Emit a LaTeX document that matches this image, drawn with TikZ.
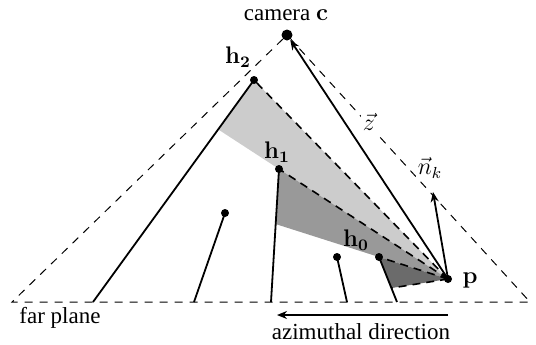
\documentclass[tikz,border=0pt]{standalone}
\usepackage[no-math]{fontspec}
\setmainfont{Liberation Serif}
\usetikzlibrary{arrows.meta,calc}
\tikzset{
  frustum/.style={line width=0.5pt, dash pattern=on 4pt off 3.5pt},
  ray/.style={line width=0.8pt, dash pattern=on 4pt off 3pt},
  horizon/.style={line width=0.9pt},
  vec/.style={line width=0.9pt, -{Stealth[length=5pt,width=4pt]}},
  dot/.style={circle, fill, inner sep=0pt, minimum size=4pt},
  veclabel/.style={fill=white, inner sep=1pt}
}

\begin{document}
\begin{tikzpicture}[x=0.5pt,y=-0.5pt,font=\fontsize{11.5}{14}\selectfont]
\useasboundingbox (0,0) rectangle (536,344);
% points of the horizon search
\coordinate (h2) at (254,80);
\coordinate (g2) at (93,302);
\coordinate (h1) at (279,169);
\coordinate (g1) at (271,302);
\coordinate (h0) at (379,257);
\coordinate (g0) at (397,302);
\coordinate (p) at (448,279);
\coordinate (k) at ($(h0)!0.69!(g0)$);
\coordinate (fl) at (12,302);
\coordinate (fr) at (530,302);
% shaded sectors
\fill[black!20] (p) -- (h2) -- (intersection of h2--g2 and p--h1) -- cycle;
\fill[black!40] (p) -- (h1) -- (intersection of h1--g1 and p--h0) -- cycle;
\fill[black!58] (p) -- (h0) -- (k) -- cycle;
% view frustum
\node[dot, minimum size=5.5pt] (c) at (287,35) {};
\draw[frustum] (c) -- (fl) -- (fr) -- (c);
% rays from p
\draw[ray] (p) -- (h2) (p) -- (h1) (p) -- (h0) (p) -- (k);
% depth samples
\draw[horizon] (h2) -- (g2) (h1) -- (g1) (h0) -- (g0);
\foreach \i/\x/\y/\fx in {1/225/213/194, 2/337/257/347}{
  \coordinate (d\i) at (\x,\y);
  \coordinate (f\i) at (\fx,302);
  \draw[horizon] (d\i) -- (f\i);
  \fill (d\i) circle (2pt);
}
\foreach \n in {h2,h1,h0,p}
  \fill (\n) circle (2pt);
% vectors
\coordinate (nk) at (433,192);
\draw[vec] (p) -- (c);
\draw[vec] (p) -- (nk);
\coordinate (az1) at (448,315);
\coordinate (az0) at (277,315);
\draw[vec] (az1) -- (az0);
% labels
\node (lc) at (286,15) {camera $\mathbf{c}$};
\node (lh2) at (238,57) {$\mathbf{h_2}$};
\node (lh1) at (277,152) {$\mathbf{h_1}$};
\node (lh0) at (356,240) {$\mathbf{h_0}$};
\node (lp) at (470,280) {$\mathbf{p}$};
\node[veclabel] (lz) at (369,122) {$\vec{z}$};
\node[veclabel] (lnk) at (430,168) {$\vec{n}_k$};
\node (lfar) at (60,318) {far plane};
\node (laz) at (361,332) {azimuthal direction};
\end{tikzpicture}
\end{document}
